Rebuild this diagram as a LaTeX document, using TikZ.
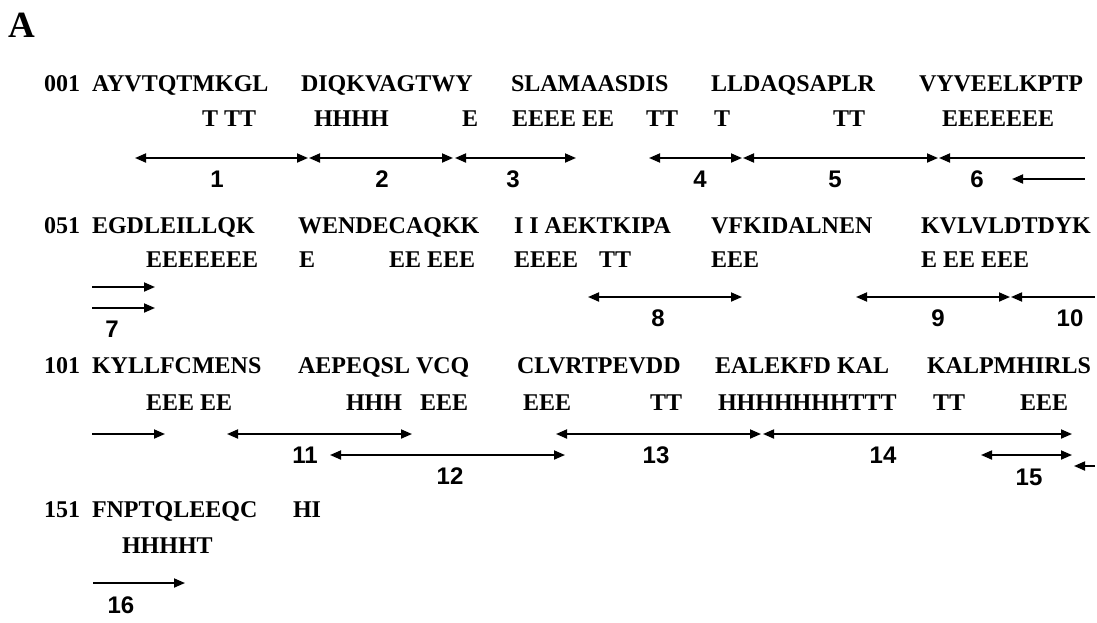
\documentclass[tikz,border=0pt]{standalone}
\usepackage{fontspec}
\setmainfont{Liberation Serif}
\newfontfamily\numfam{Liberation Sans}
\usetikzlibrary{arrows.meta}
\begin{document}
\begin{tikzpicture}[x=1pt,y=-1pt,
  seq/.style={font=\bfseries\fontsize{24}{28}\selectfont, anchor=base west, inner sep=0pt, outer sep=0pt},
  lbl/.style={font=\bfseries\fontsize{37}{40}\selectfont, anchor=base west, inner sep=0pt},
  num/.style={font=\numfam\bfseries\fontsize{24}{28}\selectfont, anchor=base, inner sep=0pt},
  span/.style={line width=1.8pt},
  both/.style={span, {Triangle[length=11pt,width=9pt]}-{Triangle[length=11pt,width=9pt]}},
  fwd/.style={span, -{Triangle[length=11pt,width=9pt]}},
  bwd/.style={span, {Triangle[length=11pt,width=9pt]}-},
]
\fill[white] (0,0) rectangle (1097,622);
\useasboundingbox (0,0) rectangle (1097,622);

\node[lbl] (A) at (8,37) {A};

% ---------- row 1 ----------
\node[seq] (r1n) at (44,91) {001};
\node[seq] (r1s1) at (92,91) {AYVTQTMKGL};
\node[seq] (r1s2) at (301,91) {DIQKVAGTWY};
\node[seq] (r1s3) at (511,91) {SLAMAASDIS};
\node[seq] (r1s4) at (711,91) {LLDAQSAPLR};
\node[seq] (r1s5) at (919,91) {VYVEELKPTP};
\node[seq] (r1t1) at (202,126) {T TT};
\node[seq] (r1t2) at (314,126) {HHHH};
\node[seq] (r1t3) at (462,126) {E};
\node[seq] (r1t4) at (512,126) {EEEE EE};
\node[seq] (r1t5) at (646,126) {TT};
\node[seq] (r1t6) at (714,126) {T};
\node[seq] (r1t7) at (833,126) {TT};
\node[seq] (r1t8) at (942,126) {EEEEEEE};

\coordinate (p1a) at (135,158); \coordinate (p1b) at (308,158);
\coordinate (p2a) at (309,158); \coordinate (p2b) at (453,158);
\coordinate (p3a) at (455,158); \coordinate (p3b) at (576,158);
\coordinate (p4a) at (649,158); \coordinate (p4b) at (742,158);
\coordinate (p5a) at (743,158); \coordinate (p5b) at (938,158);
\coordinate (p6a) at (939,158); \coordinate (p6b) at (1085,158);
\coordinate (q6a) at (1012,179); \coordinate (q6b) at (1085,179);
\draw[both] (p1a) -- (p1b);
\draw[both] (p2a) -- (p2b);
\draw[both] (p3a) -- (p3b);
\draw[both] (p4a) -- (p4b);
\draw[both] (p5a) -- (p5b);
\draw[bwd] (p6a) -- (p6b);
\draw[bwd] (q6a) -- (q6b);
\node[num] (n1) at (217,187) {1};
\node[num] (n2) at (382,187) {2};
\node[num] (n3) at (513,187) {3};
\node[num] (n4) at (700,187) {4};
\node[num] (n5) at (835,187) {5};
\node[num] (n6) at (977,187) {6};

% ---------- row 2 ----------
\node[seq] (r2n) at (44,233) {051};
\node[seq] (r2s1) at (92,233) {EGDLEILLQK};
\node[seq] (r2s2) at (298,233) {WENDECAQKK};
\node[seq] (r2s3) at (514,233) {I I AEKTKIPA};
\node[seq] (r2s4) at (711,233) {VFKIDALNEN};
\node[seq] (r2s5) at (921,233) {KVLVLDTDYK};
\node[seq] (r2t1) at (146,267) {EEEEEEE};
\node[seq] (r2t2) at (299,267) {E};
\node[seq] (r2t3) at (389,267) {EE EEE};
\node[seq] (r2t4) at (514,267) {EEEE};
\node[seq] (r2t5) at (599,267) {TT};
\node[seq] (r2t6) at (711,267) {EEE};
\node[seq] (r2t7) at (921,267) {E EE EEE};

\coordinate (p7a) at (92,287); \coordinate (p7b) at (155,287);
\coordinate (q7a) at (92,308); \coordinate (q7b) at (155,308);
\coordinate (p8a) at (588,297); \coordinate (p8b) at (742,297);
\coordinate (p9a) at (856,297); \coordinate (p9b) at (1010,297);
\coordinate (p10a) at (1011,297); \coordinate (p10b) at (1095,297);
\draw[fwd] (p7a) -- (p7b);
\draw[fwd] (q7a) -- (q7b);
\draw[both] (p8a) -- (p8b);
\draw[both] (p9a) -- (p9b);
\draw[bwd] (p10a) -- (p10b);
\node[num] (n7) at (112,337) {7};
\node[num] (n8) at (658,326) {8};
\node[num] (n9) at (938,326) {9};
\node[num] (n10) at (1070,326) {10};

% ---------- row 3 ----------
\node[seq] (r3n) at (44,373) {101};
\node[seq] (r3s1) at (92,373) {KYLLFCMENS};
\node[seq] (r3s2) at (298,373) {AEPEQSL VCQ};
\node[seq] (r3s3) at (517,373) {CLVRTPEVDD};
\node[seq] (r3s4) at (715,373) {EALEKFD KAL};
\node[seq] (r3s5) at (927,373) {KALPMHIRLS};
\node[seq] (r3t1) at (146,410) {EEE EE};
\node[seq] (r3t2) at (346,410) {HHH};
\node[seq] (r3t3) at (420,410) {EEE};
\node[seq] (r3t4) at (523,410) {EEE};
\node[seq] (r3t5) at (650,410) {TT};
\node[seq] (r3t6) at (718,410) {HHHHHHHTTT};
\node[seq] (r3t7) at (933,410) {TT};
\node[seq] (r3t8) at (1020,410) {EEE};

\coordinate (p0a) at (92,434); \coordinate (p0b) at (165,434);
\coordinate (p11a) at (227,434); \coordinate (p11b) at (412,434);
\coordinate (p12a) at (330,455); \coordinate (p12b) at (565,455);
\coordinate (p13a) at (556,434); \coordinate (p13b) at (761,434);
\coordinate (p14a) at (763,434); \coordinate (p14b) at (1072,434);
\coordinate (p15a) at (981,455); \coordinate (p15b) at (1072,455);
\coordinate (q15a) at (1074,466); \coordinate (q15b) at (1095,466);
\draw[fwd] (p0a) -- (p0b);
\draw[both] (p11a) -- (p11b);
\draw[both] (p12a) -- (p12b);
\draw[both] (p13a) -- (p13b);
\draw[both] (p14a) -- (p14b);
\draw[both] (p15a) -- (p15b);
\draw[bwd] (q15a) -- (q15b);
\node[num] (n11) at (305,463) {11};
\node[num] (n12) at (450,484) {12};
\node[num] (n13) at (656,463) {13};
\node[num] (n14) at (883,463) {14};
\node[num] (n15) at (1029,485) {15};

% ---------- row 4 ----------
\node[seq] (r4n) at (44,517) {151};
\node[seq] (r4s1) at (92,517) {FNPTQLEEQC};
\node[seq] (r4s2) at (293,517) {HI};
\node[seq] (r4t1) at (122,553) {HHHHT};

\coordinate (p16a) at (93,583); \coordinate (p16b) at (185,583);
\draw[fwd] (p16a) -- (p16b);
\node[num] (n16) at (121,613) {16};
\end{tikzpicture}
\end{document}
